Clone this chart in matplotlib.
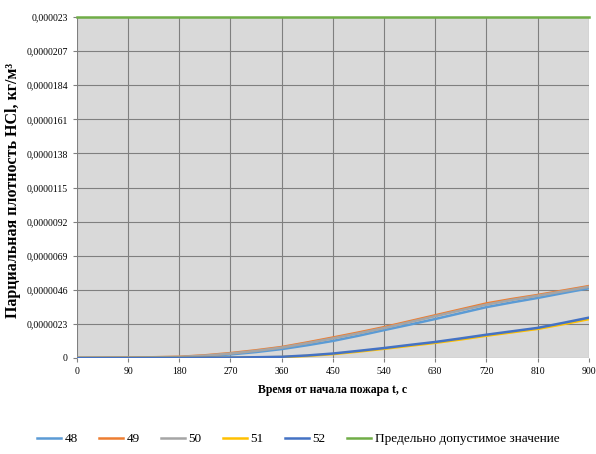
import numpy as np
import matplotlib
matplotlib.use('Agg')
from matplotlib import pyplot as plt

plt.rcParams['font.family'] = ['Liberation Serif', 'DejaVu Serif']

# time, s
t = [0, 90, 180, 225, 270, 315, 360, 405, 450, 495, 540, 585, 630, 675, 720, 765, 810, 855, 900]

# partial density of HCl, 1e-6 kg/m3
s48 = [0, 0.01, 0.05, 0.12, 0.24, 0.40, 0.60, 0.86, 1.15, 1.50, 1.88, 2.25, 2.63, 3.03, 3.43, 3.75, 4.05, 4.38, 4.70]
s49 = [0, 0.02, 0.08, 0.18, 0.33, 0.52, 0.74, 1.05, 1.38, 1.72, 2.08, 2.48, 2.88, 3.28, 3.68, 3.98, 4.25, 4.55, 4.85]
s50 = [0, 0.02, 0.07, 0.16, 0.30, 0.48, 0.70, 1.00, 1.32, 1.66, 2.02, 2.42, 2.82, 3.22, 3.60, 3.92, 4.20, 4.50, 4.80]
s51 = [0, 0, 0.01, 0.01, 0.02, 0.04, 0.06, 0.14, 0.26, 0.43, 0.62, 0.82, 1.02, 1.25, 1.50, 1.73, 1.96, 2.28, 2.62]
s52 = [0, 0, 0.01, 0.02, 0.03, 0.05, 0.08, 0.17, 0.30, 0.48, 0.67, 0.88, 1.08, 1.32, 1.57, 1.80, 2.03, 2.37, 2.72]
limit = 23.0

series = [('48', s48, '#5B9BD5'), ('49', s49, '#ED7D31'), ('50', s50, '#A5A5A5'),
          ('51', s51, '#FFC000'), ('52', s52, '#4472C4')]

xticks = [0, 90, 180, 270, 360, 450, 540, 630, 720, 810, 900]
yticks = [0, 0.0000023, 0.0000046, 0.0000069, 0.0000092, 0.0000115,
          0.0000138, 0.0000161, 0.0000184, 0.0000207, 0.000023]
ylabels = ['0', '0,0000023', '0,0000046', '0,0000069', '0,0000092', '0,0000115',
           '0,0000138', '0,0000161', '0,0000184', '0,0000207', '0,000023']

fig = plt.figure(figsize=(5.96, 4.54), dpi=100)
ax = fig.add_axes([0.129, 0.2115, 0.859, 0.751])
ax.set_facecolor('#d9d9d9')

tt = np.array(t)
for name, vals, col in series:
    ax.plot(tt, np.array(vals) * 1e-6, color=col, lw=1.8, label=name)
ax.plot([t[0], t[-1]], [limit * 1e-6] * 2, color='#70AD47', lw=1.8,
        label='Предельно допустимое значение', clip_on=False)

ax.set_xlim(0, 900)
ax.set_ylim(0, 0.000023)
ax.set_xticks(xticks)
ax.set_yticks(yticks)
ax.set_yticklabels(ylabels)
ax.tick_params(labelsize=7, length=3, color='#808080')
ax.grid(True, color='#7f7f7f', lw=0.8)
ax.set_axisbelow(True)
for s in ax.spines.values():
    s.set_visible(False)

ax.set_xlabel('Время от начала пожара t, с', fontsize=8.5, fontweight='bold', labelpad=6)
ax.set_ylabel('Парциальная плотность HCl, кг/м³', fontsize=11.5, fontweight='bold', labelpad=2)
ax.yaxis.set_label_coords(-0.11, 0.49)

fig.legend(loc='center', bbox_to_anchor=(0.5, 0.033), ncol=6, frameon=False,
           fontsize=9.5, handlelength=1.8, columnspacing=1.6, handletextpad=0.3)

fig.savefig('out.png', dpi=100)
